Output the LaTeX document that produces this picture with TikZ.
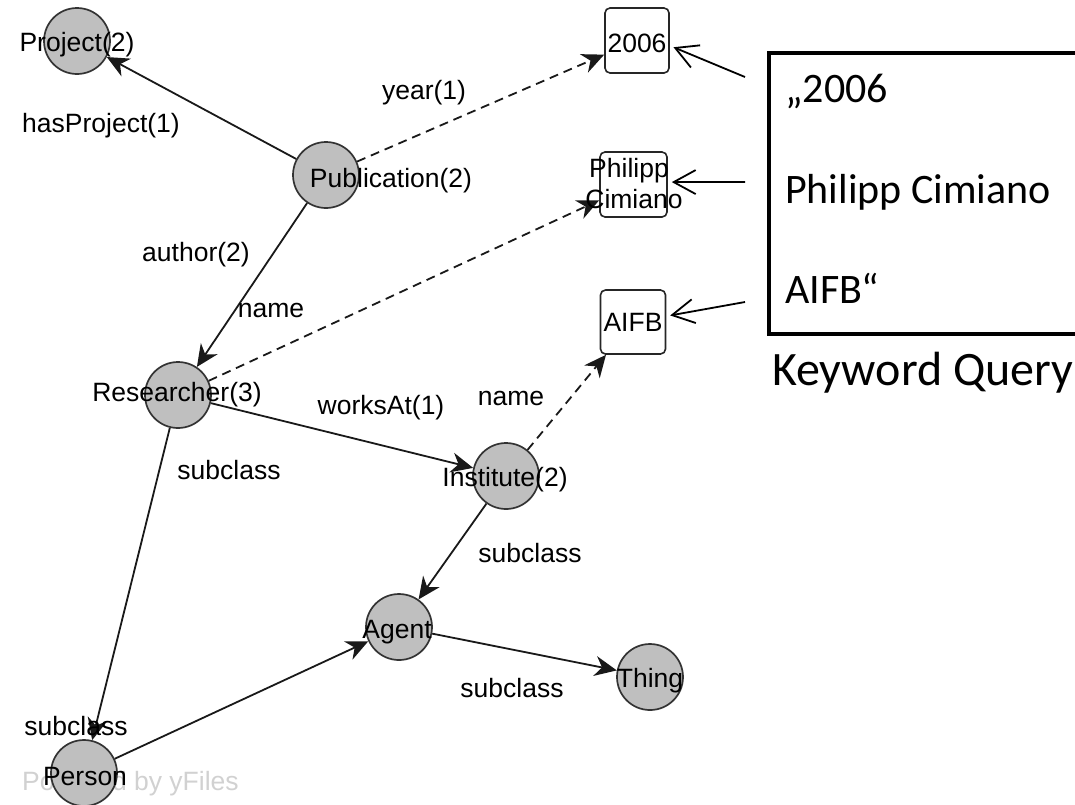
\documentclass[tikz,border=0pt]{standalone}
\usepackage{fontspec}
\setmainfont{Liberation Sans}
\newfontfamily\kwfont{Carlito}
\usetikzlibrary{arrows.meta}
\begin{document}
\begin{tikzpicture}[x=1pt,y=-1pt,
  cls/.style={circle,draw=black!80,fill=black!25,line width=1.7pt,minimum size=66pt,inner sep=0pt},
  lit/.style={rectangle,draw=black!85,fill=white,rounded corners=5pt,line width=1.6pt,minimum width=65pt,minimum height=65pt,inner sep=0pt},
  lbl/.style={font=\fontsize{26.5}{31}\selectfont,inner sep=0pt,anchor=base},
  rel/.style={line width=1.8pt,draw=black!90,-{Stealth[length=22pt,width=20pt,inset=7pt]}},
  attr/.style={rel,dash pattern=on 9pt off 6pt},
  kw/.style={font=\kwfont\fontsize{42}{50}\selectfont,inner sep=0pt,anchor=base west},
  ptr/.style={line width=1.8pt,shorten >=4pt,-{Straight Barb[length=22pt,width=24pt]}}
]
\useasboundingbox (0,0) rectangle (1075,804);
\clip (0,0) rectangle (1075,804);

% watermark under the nodes
\node[lbl,anchor=base west,text=black!18] (wm) at (22,790) {Powered by yFiles};

% class nodes
\node[cls] (proj)   at (77,41)   {};
\node[cls] (pub)    at (326,175) {};
\node[cls] (res)    at (178,395) {};
\node[cls] (inst)   at (506,476) {};
\node[cls] (agent)  at (399,627) {};
\node[cls] (thing)  at (650,677) {};
\node[cls] (person) at (84,773)  {};

% literal nodes
\node[lit,minimum width=64pt] (y2006) at (637,40.5)  {};
\node[lit,minimum width=67pt] (pc)    at (633.5,184.5) {};
\node[lit,minimum height=64pt] (aifb) at (633,322)   {};

% edges
\draw[rel]  (pub) -- (proj);
\draw[attr] (pub) -- (y2006);
\draw[rel]  (pub) -- (res);
\draw[attr] (res) -- (pc);
\draw[rel]  (res) -- (inst);
\draw[attr] (inst) -- (aifb);
\draw[rel]  (res) -- (person);
\draw[rel]  (inst) -- (agent);
\draw[rel]  (person) -- (agent);
\draw[rel]  (agent) -- (thing);

% node texts
\node[lbl] (t-proj)   at (77,51)   {Project(2)};
\node[lbl] (t-pub)    at (391,187) {Publication(2)};
\node[lbl] (t-res)    at (177,401) {Researcher(3)};
\node[lbl] (t-inst)   at (505,486) {Institute(2)};
\node[lbl] (t-agent)  at (397,638) {Agent};
\node[lbl] (t-thing)  at (650,687) {Thing};
\node[lbl] (t-person) at (85,785)  {Person};
\node[lbl] (t-2006)   at (637,52)  {2006};
\node[lbl] (t-pc1)    at (629,177) {Philipp};
\node[lbl] (t-pc2)    at (634,208) {Cimiano};
\node[lbl] (t-aifb)   at (633,331) {AIFB};

% edge labels
\node[lbl] (e-hasproj) at (101,132) {hasProject(1)};
\node[lbl] (e-year)    at (424,99)  {year(1)};
\node[lbl] (e-author)  at (196,261) {author(2)};
\node[lbl] (e-name1)   at (271,317) {name};
\node[lbl] (e-works)   at (381,414) {worksAt(1)};
\node[lbl] (e-name2)   at (511,405) {name};
\node[lbl] (e-sub1)    at (229,479) {subclass};
\node[lbl] (e-sub2)    at (530,562) {subclass};
\node[lbl] (e-sub3)    at (512,697) {subclass};
\node[lbl] (e-sub4)    at (76,735)  {subclass};

% keyword query box
\node[draw,line width=4pt,minimum width=328pt,minimum height=281pt,inner sep=0pt,anchor=north west] (kwbox) at (767,50.5) {};
\node[kw] (q1) at (785,102) {„2006};
\node[kw] (q2) at (785,203) {Philipp Cimiano};
\node[kw] (q3) at (785,303) {AIFB“};
\node[kw,font=\kwfont\fontsize{48}{57}\selectfont] (kq) at (772,385) {Keyword Query};

% pointers from the query terms
\coordinate (k1) at (745,77);
\coordinate (k2) at (745,182);
\coordinate (k3) at (745,302);
\draw[ptr] (k1) -- (y2006.-9);
\draw[ptr] (k2) -- (pc.4);
\draw[ptr] (k3) -- (aifb.10);
\end{tikzpicture}
\end{document}
